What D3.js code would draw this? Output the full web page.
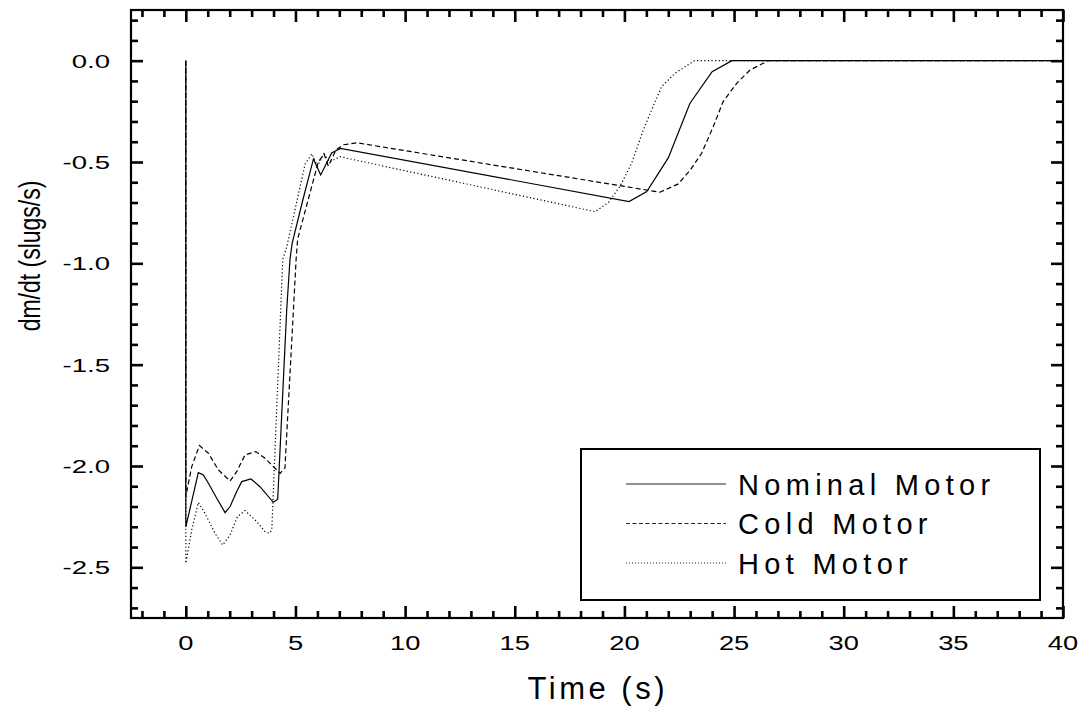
<!DOCTYPE html>
<html>
<head>
<meta charset="utf-8">
<script src="https://cdn.jsdelivr.net/npm/d3@7"></script>
<style>
body { margin: 0; background: #fff; }
text { font-family: "Liberation Sans", Arial, sans-serif; fill: #000; }
</style>
</head>
<body>
<div id="chart"></div>
<script>
// tick values / labels
const xTicks = [0, 5, 10, 15, 20, 25, 30, 35, 40];
const xTickLabels = ["0", "5", "10", "15", "20", "25", "30", "35", "40"];
const yTicks = [0, -0.5, -1.0, -1.5, -2.0, -2.5];
const yTickLabels = ["0.0", "-0.5", "-1.0", "-1.5", "-2.0", "-2.5"];
const seriesNames = ["Nominal Motor", "Cold Motor", "Hot Motor"];

// Nominal motor (solid)
const nominalTime = [0, 0, 0.57, 0.80, 1.03, 1.41, 1.79, 2.02, 2.32, 2.55, 2.97, 3.38, 3.99, 4.19,
    4.6, 4.75, 4.85, 5.33, 5.82, 6.15, 6.65, 7.05, 20.21, 21.02, 22.0, 22.99, 24.0, 24.9, 40];
const nominalRate = [0, -2.30, -2.033, -2.044, -2.085, -2.159, -2.230, -2.200, -2.126, -2.077, -2.064, -2.102, -2.179, -2.164,
    -1.23, -0.98, -0.90, -0.69, -0.485, -0.564, -0.455, -0.433, -0.695, -0.646, -0.48, -0.21, -0.054, 0, 0];

// Cold motor (dashed)
const coldTime = [0, 0, 0.27, 0.62, 1.03, 1.48, 2.02, 2.32, 2.70, 3.19, 3.61, 4.07, 4.30, 4.52,
    5.03, 5.1, 6.04, 6.3, 6.5, 6.85, 7.2, 7.79, 21.62, 22.46, 23.0, 23.52, 24.05, 24.5, 25.12, 25.73, 26.56, 40];
const coldRate = [0, -2.15, -2.003, -1.899, -1.937, -2.019, -2.074, -2.028, -1.945, -1.929, -1.962, -2.011, -2.036, -2.01,
    -0.98, -0.88, -0.50, -0.46, -0.52, -0.44, -0.415, -0.405, -0.649, -0.608, -0.54, -0.457, -0.326, -0.202, -0.112, -0.046, 0, 0];

// Hot motor (dotted)
const hotTime = [0, 0, 0.27, 0.57, 0.87, 1.33, 1.68, 2.02, 2.35, 2.70, 3.23, 3.61, 3.81, 3.92,
    4.42, 4.6, 5.44, 5.75, 6.0, 6.3, 6.55, 7.03, 18.66, 19.27, 19.8, 20.33, 20.86, 21.4, 21.7, 22.31, 23.2, 40];
const hotRate = [0, -2.48, -2.315, -2.18, -2.233, -2.332, -2.39, -2.34, -2.25, -2.22, -2.274, -2.324, -2.332, -2.315,
    -0.98, -0.92, -0.51, -0.46, -0.52, -0.46, -0.50, -0.474, -0.745, -0.70, -0.62, -0.506, -0.342, -0.202, -0.128, -0.062, 0, 0];

const width = 1078, height = 706;
const plot = { left: 131, right: 1063, top: 10, bottom: 618 };

const svg = d3.select("#chart").append("svg")
    .attr("width", width)
    .attr("height", height);

const xScale = d3.scaleLinear().domain([-2.5, 40]).range([plot.left, plot.right]);
const yScale = d3.scaleLinear().domain([0.25, -2.75]).range([plot.top, plot.bottom]);

const xMinor = d3.range(-2, 40, 1).filter(v => v % 5 !== 0);
const yMinor = d3.range(-27, 3, 1).map(v => v / 10).filter(v => Math.round(v * 10) % 5 !== 0);

// ticks on all four sides, pointing inward
function tickAxis(axisFn, scale, values, size, transform) {
    const g = svg.append("g")
        .attr("transform", transform)
        .call(axisFn(scale).tickValues(values).tickSize(-size).tickFormat(""));
    g.select(".domain").remove();
    g.selectAll(".tick line").attr("stroke", "#000").attr("stroke-width", 2.6);
}
tickAxis(d3.axisBottom, xScale, xTicks, 12, `translate(0,${plot.bottom})`);
tickAxis(d3.axisBottom, xScale, xMinor, 7, `translate(0,${plot.bottom})`);
tickAxis(d3.axisTop, xScale, xTicks, 12, `translate(0,${plot.top})`);
tickAxis(d3.axisTop, xScale, xMinor, 7, `translate(0,${plot.top})`);
tickAxis(d3.axisLeft, yScale, yTicks, 12, `translate(${plot.left},0)`);
tickAxis(d3.axisLeft, yScale, yMinor, 7, `translate(${plot.left},0)`);
tickAxis(d3.axisRight, yScale, yTicks, 12, `translate(${plot.right},0)`);
tickAxis(d3.axisRight, yScale, yMinor, 7, `translate(${plot.right},0)`);

// frame
svg.append("rect")
    .attr("x", plot.left).attr("y", plot.top)
    .attr("width", plot.right - plot.left).attr("height", plot.bottom - plot.top)
    .attr("fill", "none").attr("stroke", "#000").attr("stroke-width", 2.2);

// wide lettering for the tick numbers
function wideText(x, y, str, size, sx, anchor) {
    return svg.append("text")
        .attr("transform", `translate(${x},${y}) scale(${sx},1)`)
        .attr("text-anchor", anchor)
        .style("font-size", size + "px")
        .text(str);
}

// spaced-out lettering; shift to cancel the trailing gap
function spacedText(x, y, str, size, spacing, anchor) {
    const shift = anchor === "end" ? spacing : anchor === "middle" ? spacing / 2 : 0;
    return svg.append("text")
        .attr("x", x + shift)
        .attr("y", y)
        .attr("text-anchor", anchor)
        .style("font-size", size + "px")
        .style("letter-spacing", spacing + "px")
        .text(str);
}

// tick labels
xTicks.forEach((v, i) => wideText(xScale(v), 650, xTickLabels[i], 21, 1.3, "middle"));
yTicks.forEach((v, i) => wideText(110, yScale(v) + 7, yTickLabels[i], 19, 1.45, "end"));

// axis titles
spacedText(596, 699, "Time (s)", 31, 3.5, "middle");
svg.append("text")
    .attr("transform", "translate(40,256) scale(1.25,1) rotate(-90)")
    .attr("text-anchor", "middle")
    .style("font-size", "23px")
    .text("dm/dt (slugs/s)");

// lines
const series = [
    { time: nominalTime, rate: nominalRate, dash: null },
    { time: coldTime, rate: coldRate, dash: "5,3" },
    { time: hotTime, rate: hotRate, dash: "1.2,2.4" }
];
const line = d3.line()
    .x(d => xScale(d[0]))
    .y(d => yScale(d[1]));

series.forEach(s => {
    svg.append("path")
        .datum(s.time.map((t, i) => [t, s.rate[i]]))
        .attr("fill", "none")
        .attr("stroke", "#000")
        .attr("stroke-width", 1.2)
        .attr("stroke-dasharray", s.dash)
        .attr("d", line);
});

// legend
const legend = svg.append("g");
legend.append("rect")
    .attr("x", 581).attr("y", 449).attr("width", 459).attr("height", 151)
    .attr("fill", "#fff").attr("stroke", "#000").attr("stroke-width", 2);
const legendDash = [null, "4,2.5", "1,2"];
seriesNames.forEach((name, i) => {
    const ly = 484 + i * 39.5;
    legend.append("line")
        .attr("x1", 626).attr("x2", 726).attr("y1", ly).attr("y2", ly)
        .attr("stroke", "#222").attr("stroke-width", 1)
        .attr("stroke-dasharray", legendDash[i]);
    spacedText(738, ly + 10.5, name, 29, 5.3, "start");
});
</script>
</body>
</html>
